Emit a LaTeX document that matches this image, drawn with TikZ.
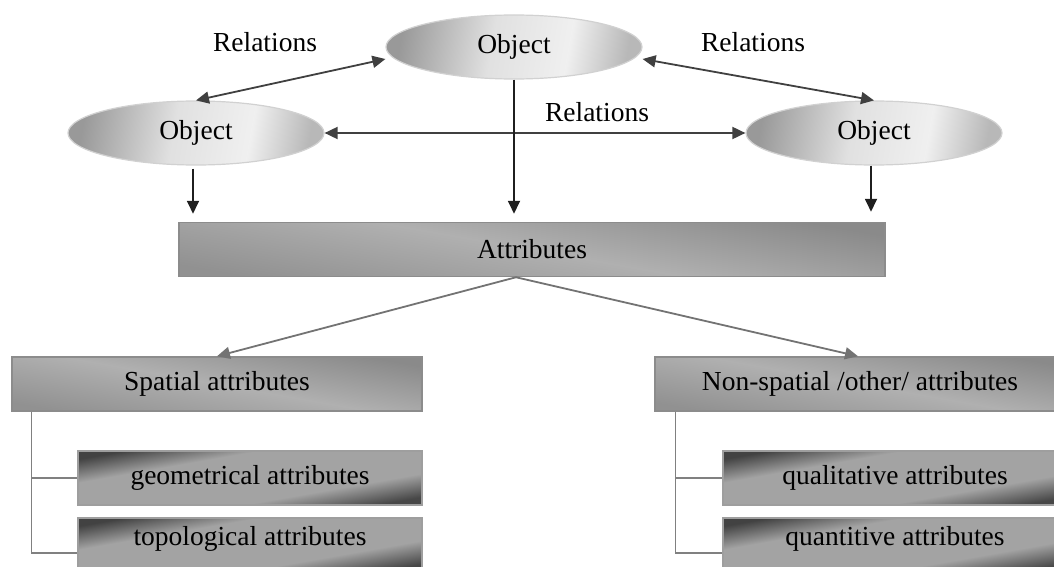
\documentclass[tikz,border=0pt]{standalone}
\usepackage{fontspec}
\setmainfont{Liberation Serif}
\usetikzlibrary{shapes.geometric,arrows.meta,calc}
\pgfdeclarehorizontalshading{ellshade}{100bp}{color(0bp)=(black!40); color(25bp)=(black!40); color(45bp)=(black!12); color(62bp)=(black!6); color(75bp)=(black!28); color(100bp)=(black!28)}
\pgfdeclarehorizontalshading{boxshade}{100bp}{color(0bp)=(black!43); color(25bp)=(black!43); color(50bp)=(black!31); color(75bp)=(black!46); color(100bp)=(black!46)}
\pgfdeclarehorizontalshading{subshade}{100bp}{color(0bp)=(black!74); color(25bp)=(black!74); color(37bp)=(black!36); color(63bp)=(black!36); color(75bp)=(black!72); color(100bp)=(black!72)}
\tikzset{
  obj/.style={ellipse, draw=black!18, line width=1.2pt, shading=ellshade, shading angle=-10, minimum width=256pt, minimum height=64pt, inner sep=0pt, font=\fontsize{27.5}{30}\selectfont},
  mainbox/.style={rectangle, draw=black!45, line width=1.5pt, shading=boxshade, shading angle=80, minimum height=54pt, inner sep=0pt, font=\fontsize{27.5}{30}\selectfont},
  subbox/.style={rectangle, draw=black!38, line width=1.5pt, shading=subshade, shading angle=-80, minimum width=344pt, minimum height=54pt, inner sep=0pt, font=\fontsize{27.5}{30}\selectfont},
  lbl/.style={font=\fontsize{27.5}{30}\selectfont, inner sep=0pt},
  relarrow/.style={draw=black!75, line width=1.8pt, {Triangle[length=13pt,width=12pt]}-{Triangle[length=13pt,width=12pt]}},
  downarrow/.style={draw=black!88, line width=1.8pt, -{Triangle[length=13pt,width=12pt]}},
  attrarrow/.style={draw=black!55, line width=1.8pt, -{Triangle[length=13pt,width=12pt]}},
  treeline/.style={draw=black!50, line width=1.3pt}
}
\begin{document}
\begin{tikzpicture}[x=1pt,y=-1pt]
\useasboundingbox (0,0) rectangle (1054,567);
\clip (0,0) rectangle (1054,567);
% objects
\node[obj] (to) at (514,47) {Object};
\node[obj] (lo) at (196,133) {Object};
\node[obj] (ro) at (874,133) {Object};
% relation labels
\node[lbl] (r1) at (265,42) {Relations};
\node[lbl] (r2) at (753,42) {Relations};
\node[lbl] (r3) at (597,112) {Relations};
% attributes
\node[mainbox, minimum width=706pt] (attr) at (532,249.5) {Attributes};
\node[mainbox, minimum width=410pt] (sp) at (217,384) {Spatial attributes};
\node[mainbox, minimum width=410pt] (ns) at (860,384) {Non-spatial /other/ attributes};
\node[subbox] (geo) at (250,478) {geometrical attributes};
\node[subbox] (topo) at (250,545) {};
\node[lbl] (topot) at (250,539) {topological attributes};
\node[subbox] (qual) at (895,478) {qualitative attributes};
\node[subbox] (quan) at (895,545) {};
\node[lbl] (quant) at (895,539) {quantitive attributes};
% relations
\draw[relarrow] ($(to.west)+(0,12)$) -- (lo.north);
\draw[relarrow] ($(to.east)+(0,12)$) -- (ro.north);
\draw[relarrow] (lo.east) -- (ro.west);
% down arrows
\draw[downarrow, shorten >=8pt] ($(lo.south)+(-3,3)$) -- ($(lo.south |- attr.north)+(-3,0)$);
\draw[downarrow, shorten >=8pt] (to.south) -- (to.south |- attr.north);
\draw[downarrow, shorten >=10pt] ($(ro.south)+(-3,0)$) -- ($(ro.south |- attr.north)+(-3,0)$);
% attribute arrows
\coordinate (as) at ($(attr.south)+(-16,0)$);
\draw[attrarrow] (as) -- (sp.north);
\draw[attrarrow] (as) -- ($(ns.north)+(-2,0)$);
% tree lines
\draw[treeline] ($(sp.south west)+(20,0)$) |- (geo.west);
\draw[treeline] ($(sp.south west)+(20,0)$) |- ($(topo.west)+(0,8)$);
\draw[treeline] ($(ns.south west)+(21,0)$) |- (qual.west);
\draw[treeline] ($(ns.south west)+(21,0)$) |- ($(quan.west)+(0,8)$);
\end{tikzpicture}
\end{document}
